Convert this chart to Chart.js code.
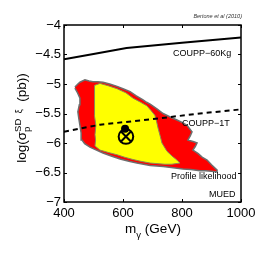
<!DOCTYPE html>
<html>
<head>
<meta charset="utf-8">
<script src="https://cdn.jsdelivr.net/npm/chart.js@4/dist/chart.umd.min.js"></script>
<style>
  html, body { margin: 0; padding: 0; background: #fff; }
  #wrap { width: 266px; height: 266px; }
</style>
</head>
<body>
<div id="wrap"><canvas id="chart" width="266" height="266"></canvas></div>
<script>
// axis ticks
const xTicks = [400, 600, 800, 1000];
const yTicks = [-7, -6.5, -6, -5.5, -5, -4.5, -4];

// outer (red) likelihood contour, mass in GeV / log sigma
const redX = [437, 447, 454, 471, 485, 498, 515, 532, 555, 580, 600, 624, 645, 668, 680, 692, 715, 736, 760, 783, 800, 817, 834, 828, 820, 840, 851, 845, 837, 855, 868, 885, 900, 919, 919, 900, 880, 861, 830, 803, 770, 736, 692, 647, 620, 590, 560, 532, 510, 488, 470, 461, 458, 454, 450, 447, 452, 454, 445, 437];
const redY = [-5.05, -5.00, -4.97, -4.93, -4.95, -4.96, -4.96, -4.97, -5.00, -5.04, -5.08, -5.13, -5.20, -5.27, -5.31, -5.34, -5.42, -5.50, -5.56, -5.61, -5.65, -5.70, -5.81, -5.88, -5.95, -5.98, -6.00, -6.06, -6.12, -6.18, -6.24, -6.29, -6.37, -6.46, -6.49, -6.48, -6.47, -6.47, -6.45, -6.44, -6.42, -6.40, -6.38, -6.34, -6.31, -6.27, -6.22, -6.17, -6.12, -6.07, -6.01, -5.95, -5.83, -5.70, -5.58, -5.47, -5.35, -5.24, -5.14, -5.07];

// inner (yellow) contour
const yellowX = [505, 522, 550, 580, 610, 634, 660, 681, 695, 708, 714, 719, 726, 732, 749, 766, 783, 793, 765, 742, 692, 660, 634, 605, 580, 550, 522, 505, 507, 505, 508, 503, 502, 505];
const yellowY = [-5.02, -4.99, -5.03, -5.08, -5.15, -5.24, -5.31, -5.37, -5.45, -5.53, -5.64, -5.75, -5.88, -6.00, -6.14, -6.22, -6.29, -6.34, -6.36, -6.36, -6.34, -6.31, -6.28, -6.24, -6.20, -6.16, -6.12, -6.05, -5.95, -5.86, -5.70, -5.53, -5.27, -5.02];

// COUPP sensitivity curves
const coupp60X = [400, 500, 612, 800, 1000];
const coupp60Y = [-4.58, -4.49, -4.39, -4.30, -4.21];
const coupp1tX = [400, 522, 691, 861, 1000];
const coupp1tY = [-5.81, -5.69, -5.60, -5.50, -5.43];

// best fit and posterior mean
const bestFit = { x: 610, y: -5.89 };
const meanPoint = { x: 607, y: -5.76 };

const pts = (xs, ys) => xs.map((x, i) => ({ x: x, y: ys[i] }));
const fontMain = '"Liberation Sans", Arial, Helvetica, sans-serif';

function drawRich(ctx, segs, x, y, rotate) {
    ctx.save();
    ctx.translate(x, y);
    if (rotate) ctx.rotate(-Math.PI / 2);
    ctx.textBaseline = 'alphabetic';
    ctx.textAlign = 'left';
    let total = 0;
    segs.forEach(s => {
        ctx.font = s.font;
        s.w = ctx.measureText(s.text).width;
        if (!s.overlap) total += s.w;
    });
    let cx = -total / 2, last = 0;
    segs.forEach(s => {
        ctx.font = s.font;
        const sx = s.overlap ? last : cx;
        ctx.fillText(s.text, sx, s.dy || 0);
        if (!s.overlap) { last = cx; cx += s.w; }
    });
    ctx.restore();
}

const decorPlugin = {
    id: 'decor',
    afterDraw(chart) {
        const ctx = chart.ctx;
        const a = chart.chartArea;
        const xs = chart.scales.x, ys = chart.scales.y;
        ctx.save();
        ctx.strokeStyle = '#000';
        ctx.lineWidth = 1.5;
        ctx.strokeRect(a.left, a.top, a.right - a.left, a.bottom - a.top);
        ctx.lineWidth = 1;
        ctx.beginPath();
        xTicks.forEach(v => {
            const p = Math.round(xs.getPixelForValue(v)) + 0.5;
            ctx.moveTo(p, a.bottom); ctx.lineTo(p, a.bottom - 3);
            ctx.moveTo(p, a.top); ctx.lineTo(p, a.top + 3);
        });
        yTicks.forEach(v => {
            const p = Math.round(ys.getPixelForValue(v)) + 0.5;
            ctx.moveTo(a.left, p); ctx.lineTo(a.left + 3, p);
            ctx.moveTo(a.right, p); ctx.lineTo(a.right - 3, p);
        });
        ctx.stroke();

        ctx.fillStyle = '#000';
        ctx.textAlign = 'left';
        ctx.textBaseline = 'alphabetic';
        ctx.font = '9px ' + fontMain;
        ctx.fillText('COUPP\u221260Kg', 173, 56);
        ctx.fillText('COUPP\u22121T', 182, 126);
        ctx.fillText('Profile likelihood', 171, 179);
        ctx.fillText('MUED', 209, 197);
        ctx.font = 'italic 5.5px ' + fontMain;
        ctx.fillStyle = '#333';
        ctx.textAlign = 'right';
        ctx.fillText('Bertone et al (2010)', 242, 18);

        ctx.fillStyle = '#000';
        drawRich(ctx, [
            { text: 'm', font: '13.5px ' + fontMain },
            { text: '\u03b3', font: '9.5px ' + fontMain, dy: 5 },
            { text: ' (GeV)', font: '13.5px ' + fontMain }
        ], 153, 233, false);

        drawRich(ctx, [
            { text: 'log(\u03c3', font: '13.5px ' + fontMain },
            { text: 'SD', font: '9.5px ' + fontMain, dy: -5.5 },
            { text: 'p', font: '9.5px ' + fontMain, dy: 3.5, overlap: true },
            { text: '  \u03be', font: '9.5px ' + fontMain, dy: -4.5 },
            { text: '  (pb))', font: '13.5px ' + fontMain }
        ], 26, 118, true);
        ctx.restore();
    }
};

new Chart(document.getElementById('chart'), {
    type: 'scatter',
    data: {
        datasets: [
            {
                data: pts(redX, redY), showLine: true, fill: 'shape',
                backgroundColor: '#ff0000', borderColor: '#6e6e6e', borderWidth: 1.5,
                pointRadius: 0, tension: 0, order: 6
            },
            {
                data: pts(yellowX, yellowY), showLine: true, fill: 'shape',
                backgroundColor: '#ffff00', borderColor: '#8a8a55', borderWidth: 1,
                pointRadius: 0, tension: 0, order: 5
            },
            {
                data: pts(coupp60X, coupp60Y), showLine: true, fill: false,
                borderColor: '#000', borderWidth: 2, pointRadius: 0, order: 4
            },
            {
                data: pts(coupp1tX, coupp1tY), showLine: true, fill: false,
                borderColor: '#000', borderWidth: 2, borderDash: [5, 4], pointRadius: 0, order: 4
            },
            {
                data: [bestFit], pointStyle: 'circle', pointRadius: 7.3,
                backgroundColor: 'rgba(0,0,0,0)', borderColor: '#000', pointBorderWidth: 2, order: 2
            },
            {
                data: [bestFit], pointStyle: 'crossRot', pointRadius: 7,
                borderColor: '#000', pointBorderWidth: 2, order: 2
            },
            {
                data: [meanPoint], pointStyle: 'circle', pointRadius: 4,
                backgroundColor: '#000', borderColor: '#000', pointBorderWidth: 0, order: 1
            }
        ]
    },
    options: {
        responsive: false,
        animation: false,
        events: [],
        layout: { padding: { left: 0, top: 25, right: 25, bottom: 0 } },
        plugins: { legend: { display: false }, tooltip: { enabled: false } },
        scales: {
            x: {
                type: 'linear', min: 400, max: 1000,
                afterBuildTicks: s => { s.ticks = xTicks.map(v => ({ value: v })); },
                afterFit: s => { s.height = 64; },
                grid: { display: false, drawTicks: false },
                border: { display: false },
                ticks: {
                    color: '#000', padding: 4, font: { size: 13, family: fontMain }, maxRotation: 0,
                    callback: v => String(v)
                }
            },
            y: {
                type: 'linear', min: -7, max: -4,
                afterBuildTicks: s => { s.ticks = yTicks.map(v => ({ value: v })); },
                afterFit: s => { s.width = 64; },
                grid: { display: false, drawTicks: false },
                border: { display: false },
                ticks: {
                    color: '#000', padding: 3, font: { size: 13, family: fontMain },
                    callback: v => String(v).replace('-', '\u2212')
                }
            }
        }
    },
    plugins: [decorPlugin]
});
</script>
</body>
</html>
